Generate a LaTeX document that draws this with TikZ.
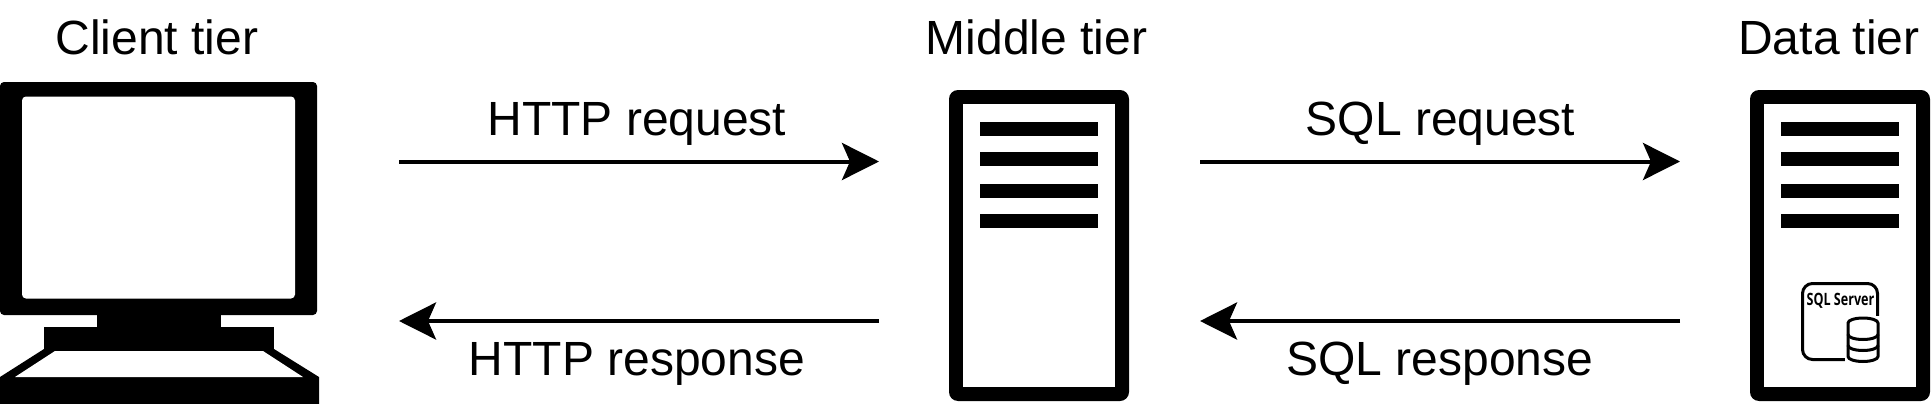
\documentclass[tikz,border=0pt]{standalone}
\usepackage{fontspec}
\setmainfont{Liberation Sans}
\newfontfamily\condfont{Open Sans}
\usetikzlibrary{arrows.meta}
\tikzset{
  label text/.style={anchor=base,inner sep=0pt,font=\fontsize{48}{50}\selectfont},
  link/.style={line width=4pt,-{Stealth[length=37pt,width=37pt,inset=8pt]}},
  ink/.style={fill=black,draw=none},
  paper/.style={fill=white,draw=none},
  iconline/.style={line width=3pt,draw=black,line cap=round,line join=round},
}
\newcommand{\serverbody}[1]{%
  \fill[ink,rounded corners=9pt] (#1,90) rectangle ++(180,311);
  \fill[paper] (#1+14,104) rectangle ++(152,283);
  \fill[ink] (#1+31,122) rectangle ++(118,14);
  \fill[ink] (#1+31,152) rectangle ++(118,14);
  \fill[ink] (#1+31,184) rectangle ++(118,14);
  \fill[ink] (#1+31,214) rectangle ++(118,14);
}
\begin{document}
\begin{tikzpicture}[x=1pt,y=-1pt]
\useasboundingbox (0,0) rectangle (1932,404);
% client
\fill[ink,rounded corners=4pt] (0,82) rectangle (317,315);
\fill[paper,rounded corners=4pt] (22,96.5) rectangle (295,298.5);
\fill[ink] (97,314) rectangle (221,328);
\fill[ink] (44,327) rectangle (274,352);
\fill[ink] (44,349) -- (0,377) -- (0,404) -- (319,404) -- (319,377) -- (274,349) -- cycle;
\fill[paper] (55,351) -- (263,351) -- (303,377) -- (15,377) -- cycle;
% servers
\serverbody{949}
\serverbody{1750}
% SQL Server icon
\draw[iconline] (1877.5,316) -- (1877.5,293.5) arc[start angle=0,end angle=-90,radius=10] -- (1812.5,283.5) arc[start angle=-90,end angle=-180,radius=10] -- (1802.5,349.5) arc[start angle=180,end angle=90,radius=10] -- (1847,359.5);
\fill[paper] (1845,316) rectangle (1881,364);
\draw[iconline] (1848,323) arc[start angle=180,end angle=360,x radius=15,y radius=5] arc[start angle=0,end angle=-180,x radius=15,y radius=5] -- (1848,356.5) arc[start angle=180,end angle=0,x radius=15,y radius=5] -- (1878,323);
\draw[iconline] (1848,334.5) arc[start angle=180,end angle=0,x radius=15,y radius=5];
\draw[iconline] (1848,345.5) arc[start angle=180,end angle=0,x radius=15,y radius=5];
\node[anchor=base,inner sep=0pt,font=\condfont\bfseries\fontsize{17}{18}\selectfont] (sqlname) at (1840.5,305) {\scalebox{.74}[1]{SQL Server}};
% titles
\node[label text] (clientT) at (157,55) {Client tier};
\node[label text] (middleT) at (1036.5,55) {Middle tier};
\node[label text] (dataT) at (1829,55) {Data tier};
% connector ends
\coordinate (c1) at (399,161.5);
\coordinate (m1) at (879,161.5);
\coordinate (m2) at (879,321);
\coordinate (c2) at (399,321);
\coordinate (m3) at (1200,161.5);
\coordinate (d1) at (1680,161.5);
\coordinate (d2) at (1680,321);
\coordinate (m4) at (1200,321);
\draw[link] (c1) -- (m1);
\draw[link] (m2) -- (c2);
\draw[link] (m3) -- (d1);
\draw[link] (d2) -- (m4);
% link labels
\node[label text] (httpreq) at (637,135) {HTTP request};
\node[label text] (httpres) at (637,375) {HTTP response};
\node[label text] (sqlreq) at (1440.5,135) {SQL request};
\node[label text] (sqlres) at (1440,375) {SQL response};
\end{tikzpicture}
\end{document}
